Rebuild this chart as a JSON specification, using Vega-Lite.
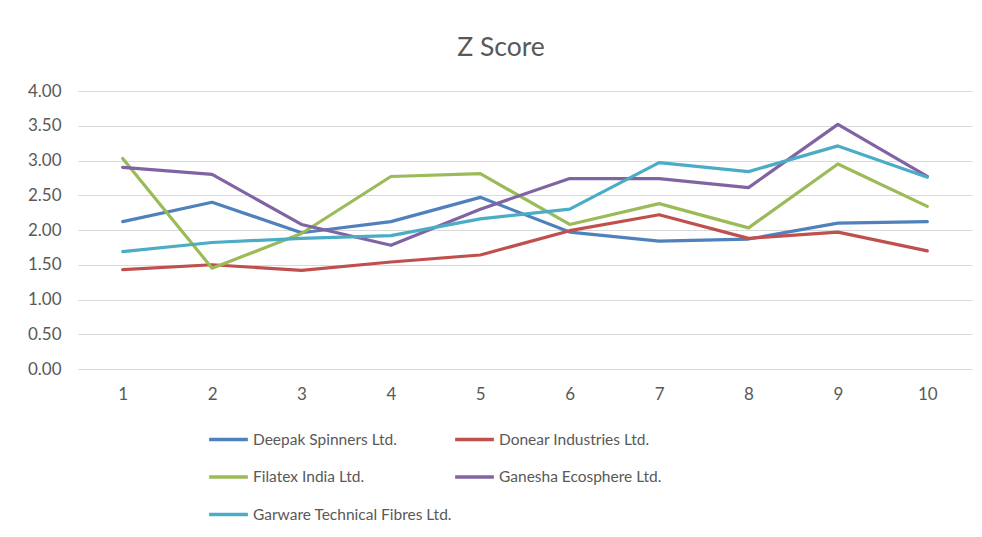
{
  "$schema": "https://vega.github.io/schema/vega-lite/v6.json",
  "width": 894,
  "height": 278,
  "autosize": {"type": "none"},
  "padding": {"left": 78, "top": 91, "right": 10, "bottom": 168},
  "background": "white",
  "title": {
    "text": "Z Score",
    "font": "Lato",
    "fontSize": 26.5,
    "fontWeight": "normal",
    "color": "#595959",
    "anchor": "middle",
    "dx": -24,
    "offset": 21
  },
  "data": {
    "values": [
      {"year": 1, "company": "Deepak Spinners Ltd.", "z": 2.12},
      {"year": 2, "company": "Deepak Spinners Ltd.", "z": 2.40},
      {"year": 3, "company": "Deepak Spinners Ltd.", "z": 1.96},
      {"year": 4, "company": "Deepak Spinners Ltd.", "z": 2.12},
      {"year": 5, "company": "Deepak Spinners Ltd.", "z": 2.47},
      {"year": 6, "company": "Deepak Spinners Ltd.", "z": 1.97},
      {"year": 7, "company": "Deepak Spinners Ltd.", "z": 1.84},
      {"year": 8, "company": "Deepak Spinners Ltd.", "z": 1.87},
      {"year": 9, "company": "Deepak Spinners Ltd.", "z": 2.10},
      {"year": 10, "company": "Deepak Spinners Ltd.", "z": 2.12},
      {"year": 1, "company": "Donear Industries Ltd.", "z": 1.43},
      {"year": 2, "company": "Donear Industries Ltd.", "z": 1.50},
      {"year": 3, "company": "Donear Industries Ltd.", "z": 1.42},
      {"year": 4, "company": "Donear Industries Ltd.", "z": 1.54},
      {"year": 5, "company": "Donear Industries Ltd.", "z": 1.64},
      {"year": 6, "company": "Donear Industries Ltd.", "z": 1.99},
      {"year": 7, "company": "Donear Industries Ltd.", "z": 2.22},
      {"year": 8, "company": "Donear Industries Ltd.", "z": 1.88},
      {"year": 9, "company": "Donear Industries Ltd.", "z": 1.97},
      {"year": 10, "company": "Donear Industries Ltd.", "z": 1.70},
      {"year": 1, "company": "Filatex India Ltd.", "z": 3.03},
      {"year": 2, "company": "Filatex India Ltd.", "z": 1.45},
      {"year": 3, "company": "Filatex India Ltd.", "z": 1.95},
      {"year": 4, "company": "Filatex India Ltd.", "z": 2.77},
      {"year": 5, "company": "Filatex India Ltd.", "z": 2.81},
      {"year": 6, "company": "Filatex India Ltd.", "z": 2.08},
      {"year": 7, "company": "Filatex India Ltd.", "z": 2.38},
      {"year": 8, "company": "Filatex India Ltd.", "z": 2.03},
      {"year": 9, "company": "Filatex India Ltd.", "z": 2.95},
      {"year": 10, "company": "Filatex India Ltd.", "z": 2.34},
      {"year": 1, "company": "Ganesha Ecosphere Ltd.", "z": 2.90},
      {"year": 2, "company": "Ganesha Ecosphere Ltd.", "z": 2.80},
      {"year": 3, "company": "Ganesha Ecosphere Ltd.", "z": 2.08},
      {"year": 4, "company": "Ganesha Ecosphere Ltd.", "z": 1.78},
      {"year": 5, "company": "Ganesha Ecosphere Ltd.", "z": 2.30},
      {"year": 6, "company": "Ganesha Ecosphere Ltd.", "z": 2.74},
      {"year": 7, "company": "Ganesha Ecosphere Ltd.", "z": 2.74},
      {"year": 8, "company": "Ganesha Ecosphere Ltd.", "z": 2.61},
      {"year": 9, "company": "Ganesha Ecosphere Ltd.", "z": 3.52},
      {"year": 10, "company": "Ganesha Ecosphere Ltd.", "z": 2.77},
      {"year": 1, "company": "Garware Technical Fibres Ltd.", "z": 1.69},
      {"year": 2, "company": "Garware Technical Fibres Ltd.", "z": 1.82},
      {"year": 3, "company": "Garware Technical Fibres Ltd.", "z": 1.88},
      {"year": 4, "company": "Garware Technical Fibres Ltd.", "z": 1.92},
      {"year": 5, "company": "Garware Technical Fibres Ltd.", "z": 2.16},
      {"year": 6, "company": "Garware Technical Fibres Ltd.", "z": 2.30},
      {"year": 7, "company": "Garware Technical Fibres Ltd.", "z": 2.97},
      {"year": 8, "company": "Garware Technical Fibres Ltd.", "z": 2.84},
      {"year": 9, "company": "Garware Technical Fibres Ltd.", "z": 3.21},
      {"year": 10, "company": "Garware Technical Fibres Ltd.", "z": 2.76}
    ]
  },
  "mark": {"type": "line", "strokeWidth": 3.2, "strokeCap": "round", "strokeJoin": "round"},
  "encoding": {
    "x": {
      "field": "year",
      "type": "ordinal",
      "scale": {"type": "point", "padding": 0.5},
      "axis": {
        "title": null,
        "labelAngle": 0,
        "ticks": false,
        "domain": false,
        "grid": false,
        "labelPadding": 17,
        "labelFont": "Lato",
        "labelFontSize": 17,
        "labelColor": "#595959"
      }
    },
    "y": {
      "field": "z",
      "type": "quantitative",
      "scale": {"domain": [0, 4]},
      "axis": {
        "title": null,
        "values": [0, 0.5, 1, 1.5, 2, 2.5, 3, 3.5, 4],
        "format": ".2f",
        "ticks": false,
        "domain": false,
        "grid": true,
        "gridColor": "#D9D9D9",
        "gridWidth": 1,
        "labelPadding": 17,
        "labelFont": "Lato",
        "labelFontSize": 17,
        "labelColor": "#595959"
      }
    },
    "color": {
      "field": "company",
      "type": "nominal",
      "scale": {
        "domain": ["Deepak Spinners Ltd.", "Donear Industries Ltd.", "Filatex India Ltd.", "Ganesha Ecosphere Ltd.", "Garware Technical Fibres Ltd."],
        "range": ["#4F81BD", "#C0504D", "#9BBB59", "#8064A2", "#4BACC6"]
      },
      "legend": {
        "title": null,
        "orient": "none",
        "legendX": 129,
        "legendY": 327,
        "direction": "horizontal",
        "columns": 2,
        "columnPadding": -4,
        "rowPadding": 7.5,
        "symbolType": "stroke",
        "symbolSize": 1500,
        "symbolStrokeWidth": 3.5,
        "symbolOffset": 0,
        "labelOffset": 3,
        "labelLimit": 400,
        "labelFont": "Lato",
        "labelFontSize": 15.5,
        "labelColor": "#595959"
      }
    }
  },
  "config": {"view": {"stroke": null}}
}
